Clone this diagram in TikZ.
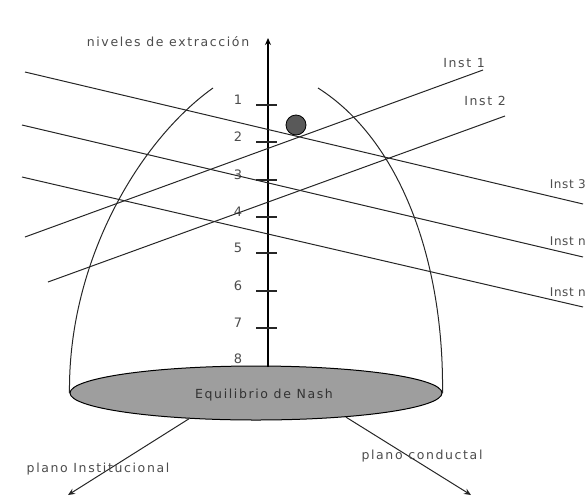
\documentclass[tikz,border=0pt]{standalone}
\usepackage{fontspec}
\setmainfont{DejaVu Sans}
\newfontfamily\lbl[LetterSpace=13]{DejaVu Sans}
\newfontfamily\lbltight[LetterSpace=5]{DejaVu Sans}
\usetikzlibrary{shapes.geometric,arrows.meta}
\begin{document}
\begin{tikzpicture}[x=1pt,y=-1pt,
  thin line/.style={line width=1pt,black!85},
  txt/.style={font=\lbl\fontsize{12.5}{13}\selectfont,text=black!70,inner sep=0pt},
  edgetxt/.style={font=\lbltight\fontsize{12}{13}\selectfont,text=black!70,inner sep=0pt,anchor=east},
  num/.style={font=\fontsize{13}{14}\selectfont,text=black!70,inner sep=0pt},
  tick/.style={line width=1.2pt,black!85}]
\useasboundingbox (0,0) rectangle (588,498);
% dome
\node[ellipse,draw,line width=1pt,fill=black!38,minimum width=372pt,minimum height=54pt,inner sep=0pt] (base) at (256,393) {};
\node[txt,text=black!80] (eqn) at (264,395) {Equilibrio de Nash};
\coordinate (ltop) at (213,88);
\coordinate (rtop) at (318,88);
\draw[thin line] (base.west) .. controls (68,260) and (140,140) .. (ltop);
\draw[thin line] (base.east) .. controls (444,260) and (400,140) .. (rtop);
% axis
\coordinate (axb) at (268,367);
\coordinate (axt) at (268,38);
\draw[line width=1.6pt,-{Stealth[length=7pt,width=6pt]}] (axb) -- (axt);
\node[txt] (niv) at (168,42) {niveles de extracción};
% ticks and labels
\foreach \i/\y in {1/105,2/142,3/180,4/217,5/253,6/291,7/328}{
  \draw[tick] (256,\y) -- (277,\y);
  \node[num] (n\i) at (238,\y-5) {\i};
}
\node[num] (n8) at (238,359) {8};
% descending lines
\coordinate (d1a) at (25,72);  \coordinate (d1b) at (583,204);
\coordinate (d2a) at (22,125); \coordinate (d2b) at (583,257);
\coordinate (d3a) at (22,177); \coordinate (d3b) at (583,307);
\draw[thin line] (d1a) -- (d1b);
\draw[thin line] (d2a) -- (d2b);
\draw[thin line] (d3a) -- (d3b);
% ascending lines
\coordinate (a1a) at (25,237); \coordinate (a1b) at (483,70);
\coordinate (a2a) at (48,282); \coordinate (a2b) at (505,116);
\draw[thin line] (a1a) -- (a1b);
\draw[thin line] (a2a) -- (a2b);
% labels
\node[txt] (i1) at (464,63) {Inst 1};
\node[txt] (i2) at (485,101) {Inst 2};
\node[edgetxt] (i3) at (586,184) {Inst 3};
\node[edgetxt] (in1) at (586,241) {Inst n};
\node[edgetxt] (in2) at (586,292) {Inst n};
% dot
\node[circle,draw,line width=0.8pt,fill=black!65,minimum size=20pt,inner sep=0pt] (dot) at (296,125) {};
% planes
\coordinate (pl) at (68,495);
\coordinate (pr) at (471,495);
\draw[thin line,-{Stealth[length=7pt,width=6pt]}] (base.201) -- (pl);
\draw[thin line,-{Stealth[length=7pt,width=6pt]}] (base.-15) -- (pr);
\node[txt] (pinst) at (98,469) {plano Institucional};
\node[txt] (pcond) at (422,456) {plano conductal};
\end{tikzpicture}
\end{document}
